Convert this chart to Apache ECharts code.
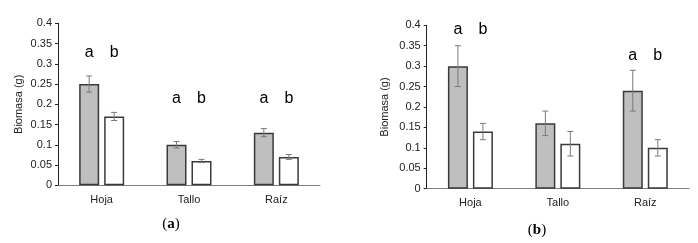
<!DOCTYPE html>
<html><head><meta charset="utf-8">
<script src="https://cdn.jsdelivr.net/npm/echarts@6/dist/echarts.min.js"></script>
<style>html,body{margin:0;padding:0;background:#fff}#c{width:698px;height:243px}</style>
</head><body><div id="c"></div>
<script>
const categories = ['Hoja', 'Tallo', 'Raíz'];
const aGray = [0.25, 0.10, 0.13];
const aGrayErr = [0.02, 0.008, 0.01];
const aWhite = [0.17, 0.06, 0.07];
const aWhiteErr = [0.01, 0.004, 0.006];
const aLetterY = [0.327, 0.213, 0.213];
const bGray = [0.30, 0.16, 0.24];
const bGrayErr = [0.05, 0.03, 0.05];
const bWhite = [0.14, 0.11, 0.10];
const bWhiteErr = [0.02, 0.03, 0.02];
const bLetterY = [0.39, null, 0.325];
const yTicks = { min: 0, max: 0.4, interval: 0.05 };

const BW = 20, GAP = 5;
const off = (BW + GAP) / 2;

function errSeries(idx, vals, errs, dx) {
  return {
    type: 'custom', xAxisIndex: idx, yAxisIndex: idx, z: 5,
    data: vals.map((v, i) => [i, v, errs[i]]),
    renderItem: function (params, api) {
      const c = api.value(0), v = api.value(1), e = api.value(2);
      const top = api.coord([c, v + e]);
      const bot = api.coord([c, v - e]);
      const x = top[0] + dx;
      const s = { stroke: '#7a7a7a', lineWidth: 1 };
      return { type: 'group', children: [
        { type: 'line', shape: { x1: x, y1: top[1], x2: x, y2: bot[1] }, style: s },
        { type: 'line', shape: { x1: x - 3, y1: top[1], x2: x + 3, y2: top[1] }, style: s },
        { type: 'line', shape: { x1: x - 3, y1: bot[1], x2: x + 3, y2: bot[1] }, style: s }
      ]};
    }
  };
}
function letterSeries(idx, ys) {
  return {
    type: 'custom', xAxisIndex: idx, yAxisIndex: idx, z: 6,
    data: ys.map((y, i) => [i, y]).filter(d => d[1] != null),
    renderItem: function (params, api) {
      const p = api.coord([api.value(0), api.value(1)]);
      const st = { fill: '#000', font: '16px "Liberation Sans", Arial, sans-serif', textAlign: 'center', textVerticalAlign: 'middle' };
      return { type: 'group', children: [
        { type: 'text', x: p[0] - off, y: p[1], style: Object.assign({ text: 'a' }, st) },
        { type: 'text', x: p[0] + off, y: p[1], style: Object.assign({ text: 'b' }, st) }
      ]};
    }
  };
}
function barSeries(idx, vals, color) {
  return {
    type: 'bar', xAxisIndex: idx, yAxisIndex: idx, data: vals, barWidth: BW, barGap: (GAP / BW * 100) + '%',
    itemStyle: { color: color, borderColor: '#3a3a3a', borderWidth: 1.5 }, silent: true
  };
}
const font = '"Liberation Sans", Arial, sans-serif';
function xAx(idx) {
  return { type: 'category', gridIndex: idx, data: categories,
    axisLine: { lineStyle: { color: '#7f7f7f', width: 1 } }, axisTick: { show: false },
    axisLabel: { color: '#222', fontSize: 11, fontFamily: font, margin: 9 } };
}
function yAx(idx, gap) {
  return Object.assign({ type: 'value', gridIndex: idx, name: 'Biomasa (g)', nameLocation: 'middle', nameGap: gap,
    nameTextStyle: { color: '#222', fontSize: 11, fontFamily: font },
    axisLine: { show: true, lineStyle: { color: '#222', width: 1 } },
    axisTick: { show: true, length: 3, lineStyle: { color: '#222' } },
    splitLine: { show: false },
    axisLabel: { color: '#222', fontSize: 11, fontFamily: font, margin: 6 } }, yTicks);
}
const capStyle = { fontFamily: '"Liberation Serif", "Times New Roman", serif', fontSize: 15, fontWeight: 'normal', color: '#000',
  rich: { a: { fontFamily: '"Liberation Serif", serif', fontSize: 15, fontWeight: 'bold', color: '#000' } } };
const chart = echarts.init(document.getElementById('c'), null, { renderer: 'canvas' });
chart.setOption({
  animation: false,
  backgroundColor: '#fff',
  grid: [
    { left: 58, top: 23.3, width: 262, height: 162 },
    { left: 426.7, top: 25.3, width: 262.3, height: 163.4 }
  ],
  title: [
    { text: '({a|a})', left: 166, top: 212, textAlign: 'center', textStyle: capStyle },
    { text: '({a|b})', left: 532, top: 218, textAlign: 'center', textStyle: capStyle }
  ],
  xAxis: [xAx(0), xAx(1)],
  yAxis: [yAx(0, 34), yAx(1, 36)],
  series: [
    barSeries(0, aGray, '#bfbfbf'), barSeries(0, aWhite, '#ffffff'),
    errSeries(0, aGray, aGrayErr, -off), errSeries(0, aWhite, aWhiteErr, off),
    letterSeries(0, aLetterY),
    barSeries(1, bGray, '#bfbfbf'), barSeries(1, bWhite, '#ffffff'),
    errSeries(1, bGray, bGrayErr, -off), errSeries(1, bWhite, bWhiteErr, off),
    letterSeries(1, bLetterY)
  ]
});
</script></body></html>
